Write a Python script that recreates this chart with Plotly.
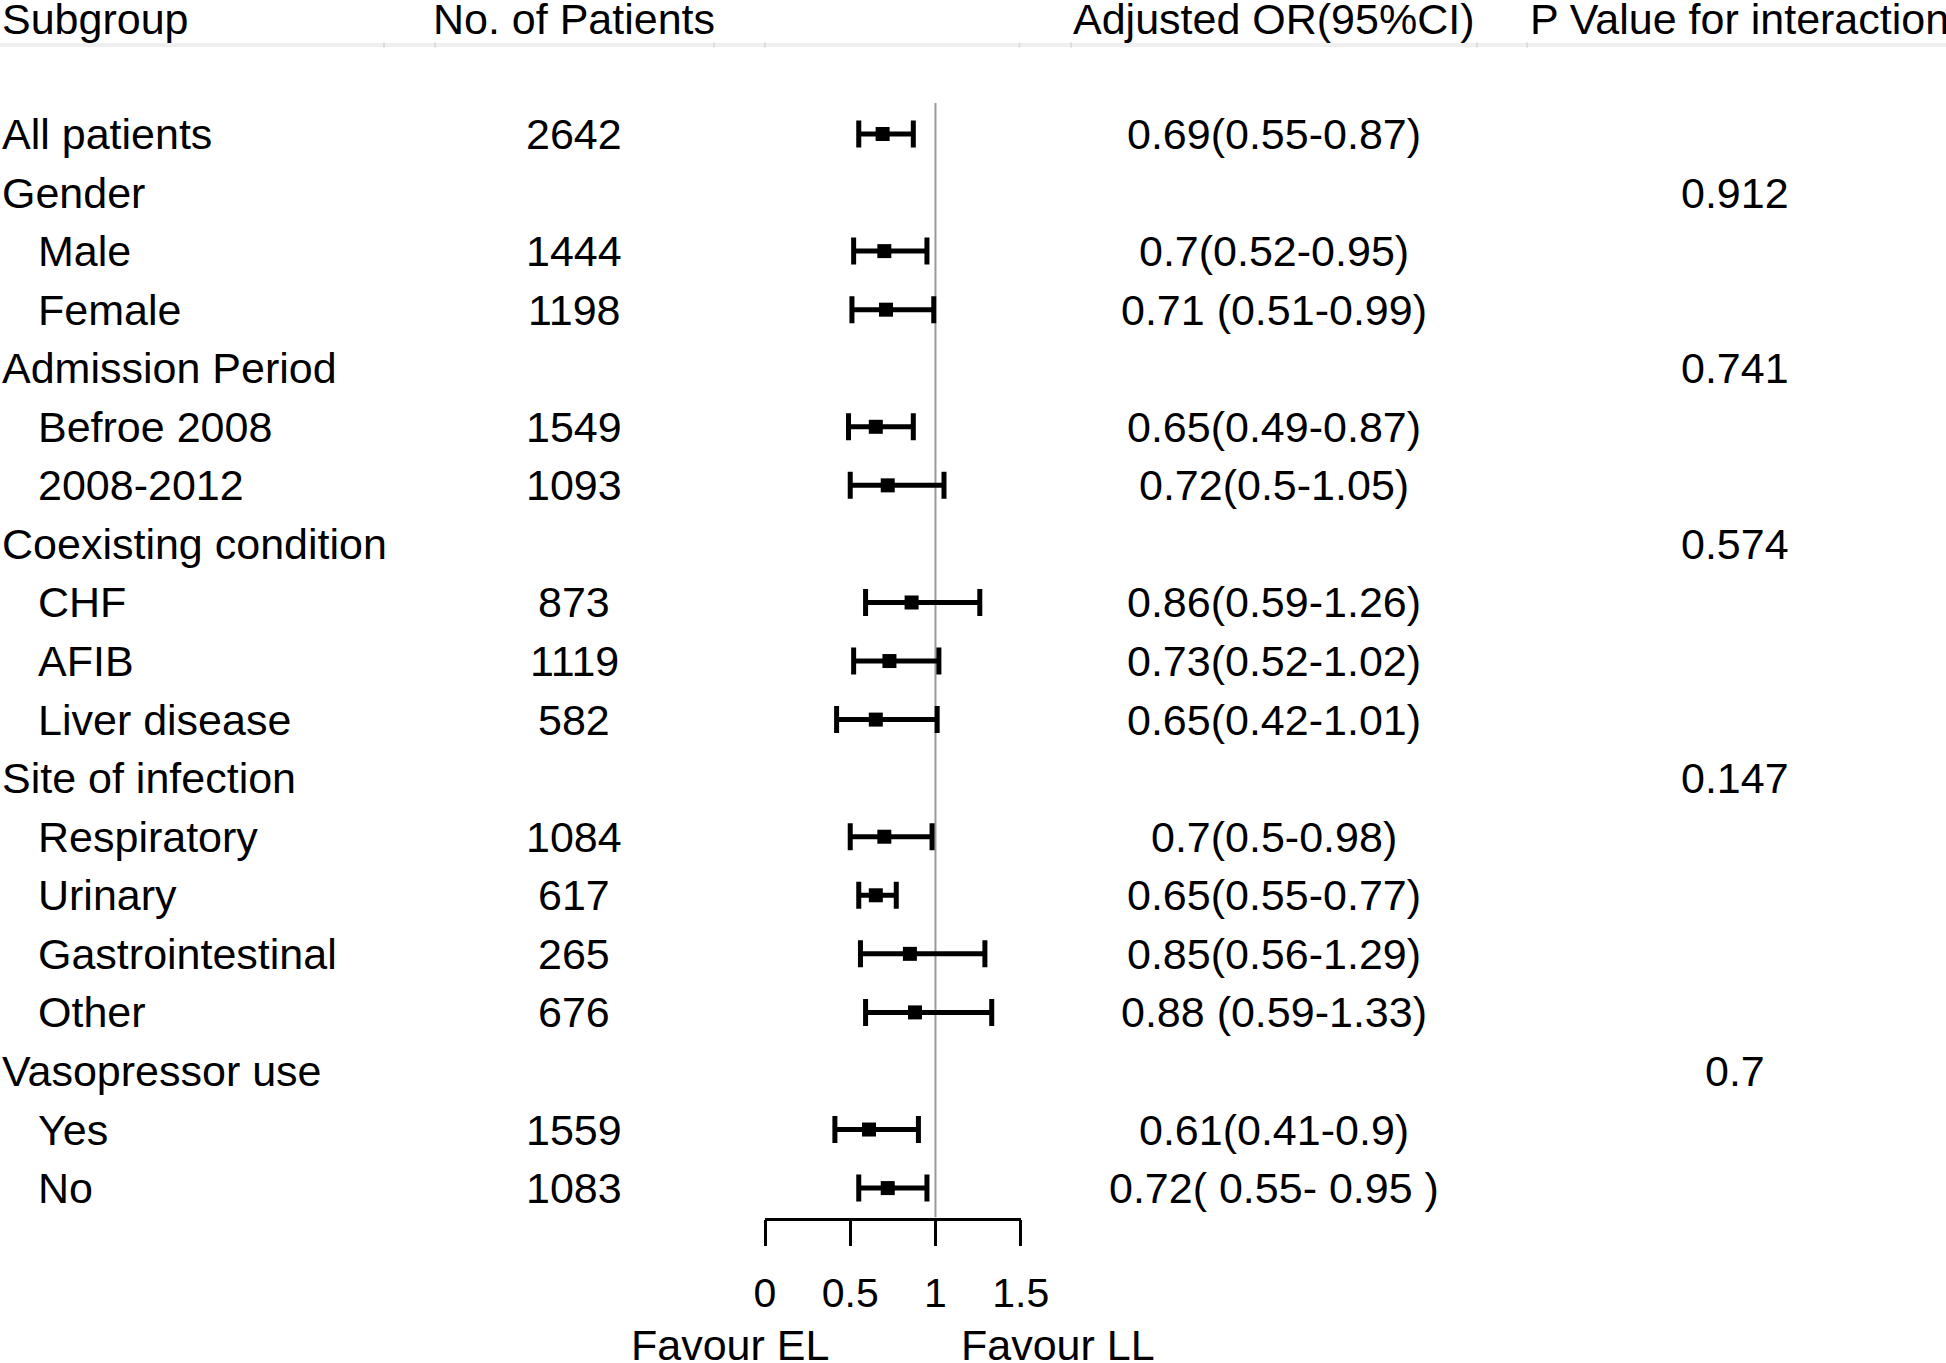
import plotly.graph_objects as go

# ---------------- data ----------------
subgroups = ["All patients", "Gender", "Male", "Female", "Admission Period",
             "Befroe 2008", "2008-2012", "Coexisting condition", "CHF", "AFIB",
             "Liver disease", "Site of infection", "Respiratory", "Urinary",
             "Gastrointestinal", "Other", "Vasopressor use", "Yes", "No"]
levels = [0, 0, 1, 1, 0, 1, 1, 0, 1, 1, 1, 0, 1, 1, 1, 1, 0, 1, 1]
n_patients = ["2642", "", "1444", "1198", "", "1549", "1093", "", "873", "1119",
              "582", "", "1084", "617", "265", "676", "", "1559", "1083"]
odds_ratio = [0.69, None, 0.70, 0.71, None, 0.65, 0.72, None, 0.86, 0.73,
              0.65, None, 0.70, 0.65, 0.85, 0.88, None, 0.61, 0.72]
ci_low = [0.55, None, 0.52, 0.51, None, 0.49, 0.50, None, 0.59, 0.52,
          0.42, None, 0.50, 0.55, 0.56, 0.59, None, 0.41, 0.55]
ci_high = [0.87, None, 0.95, 0.99, None, 0.87, 1.05, None, 1.26, 1.02,
           1.01, None, 0.98, 0.77, 1.29, 1.33, None, 0.90, 0.95]
ci_text = ["0.69(0.55-0.87)", "", "0.7(0.52-0.95)", "0.71 (0.51-0.99)", "",
           "0.65(0.49-0.87)", "0.72(0.5-1.05)", "", "0.86(0.59-1.26)",
           "0.73(0.52-1.02)", "0.65(0.42-1.01)", "", "0.7(0.5-0.98)",
           "0.65(0.55-0.77)", "0.85(0.56-1.29)", "0.88 (0.59-1.33)", "",
           "0.61(0.41-0.9)", "0.72( 0.55- 0.95 )"]
p_interaction = ["", "0.912", "", "", "0.741", "", "", "0.574", "", "", "",
                 "0.147", "", "", "", "", "0.7", "", ""]
headers = ["Subgroup", "No. of Patients", "Adjusted OR(95%CI)", "P Value for interaction"]
tick_vals = [0, 0.5, 1, 1.5]
tick_text = ["0", "0.5", "1", "1.5"]
favour_labels = ["Favour EL", "Favour LL"]

# ---------------- layout constants ----------------
W, H = 1946, 1363
FONT = "Liberation Sans, Arial, Helvetica, sans-serif"
FS = 43
ROW0_PX, ROW_STEP = 134.0, 58.56
AXIS_PX = 1217.5


def px_to_row(py):
    return (py - ROW0_PX) / ROW_STEP


rows = list(range(len(subgroups)))
idx = [i for i in rows if odds_ratio[i] is not None]

fig = go.Figure()
fig.add_trace(go.Scatter(
    x=[odds_ratio[i] for i in idx],
    y=[rows[i] for i in idx],
    mode="markers",
    marker=dict(symbol="square", size=14, color="black"),
    error_x=dict(type="data", symmetric=False,
                 array=[ci_high[i] - odds_ratio[i] for i in idx],
                 arrayminus=[odds_ratio[i] - ci_low[i] for i in idx],
                 thickness=5, width=13.5, color="black"),
    showlegend=False, hoverinfo="skip", cliponaxis=False,
))

annotations = []
font = dict(family=FONT, size=FS, color="black")
txt = dict(font=font, showarrow=False, yref="y", yanchor="middle", borderpad=0)
# header
hdr_y = px_to_row(19)
hdr_pos = [(1, "left"), (574, "center"), (1273.5, "center"), (1529, "left")]
for h, (hx, anc) in zip(headers, hdr_pos):
    annotations.append(dict(text=h, x=hx / W, xref="paper", xanchor=anc, y=hdr_y, **txt))
for i in rows:
    annotations.append(dict(text=subgroups[i], x=(1 + 36 * levels[i]) / W, xref="paper",
                            xanchor="left", y=rows[i], **txt))
    if n_patients[i]:
        annotations.append(dict(text=n_patients[i], x=574 / W, xref="paper",
                                xanchor="center", y=rows[i], **txt))
    if ci_text[i]:
        annotations.append(dict(text=ci_text[i], x=1273.5 / W, xref="paper",
                                xanchor="center", y=rows[i], **txt))
    if p_interaction[i]:
        annotations.append(dict(text=p_interaction[i], x=1735 / W, xref="paper",
                                xanchor="center", y=rows[i], **txt))
# favour labels (below the axis)
for lab, fx in zip(favour_labels, [730, 1058]):
    annotations.append(dict(text=lab, x=fx / W, xref="paper", xanchor="center",
                            y=(H - 1345) / H, yref="paper", yanchor="middle",
                            font=font, showarrow=False, borderpad=0))

shapes = [
    # reference line at OR = 1
    dict(type="line", xref="x", yref="y", x0=1, x1=1, y0=px_to_row(103), y1=px_to_row(AXIS_PX),
         line=dict(color="#999999", width=2), layer="below"),
    # light header rule
    dict(type="line", xref="paper", yref="y", x0=0, x1=1, y0=px_to_row(45), y1=px_to_row(45),
         line=dict(color="#efefef", width=4), layer="below"),
]
for gx in [384, 435, 714, 765, 1019.5, 1071, 1477, 1527]:
    shapes.append(dict(type="line", xref="paper", yref="y", x0=gx / W, x1=gx / W,
                       y0=px_to_row(42.5), y1=px_to_row(47.5),
                       line=dict(color="#dcdcdc", width=2), layer="below"))

fig.update_layout(
    width=W, height=H, autosize=False,
    margin=dict(l=0, r=0, t=0, b=0, pad=0, autoexpand=False),
    paper_bgcolor="white", plot_bgcolor="white",
    font=dict(family=FONT, size=FS, color="black"),
    xaxis=dict(domain=[765 / W, 1020.7 / W], range=[0, 1.5], automargin=False,
               showgrid=False, zeroline=False, showline=True, linecolor="black",
               linewidth=2.5, ticks="outside", ticklen=26, tickwidth=2.5,
               tickcolor="black", tickvals=tick_vals, ticktext=tick_text,
               tickfont=dict(family=FONT, size=41, color="black"),
               ticklabelstandoff=12, fixedrange=True),
    yaxis=dict(domain=[(H - AXIS_PX) / H, 1], range=[px_to_row(AXIS_PX), px_to_row(0)],
               visible=False, fixedrange=True, automargin=False),
    annotations=annotations,
    shapes=shapes,
    showlegend=False,
)

fig.write_html(
    "out.html",
    config={"displayModeBar": False},
    post_script="document.body.style.margin='0';document.body.style.overflow='hidden';",
)
